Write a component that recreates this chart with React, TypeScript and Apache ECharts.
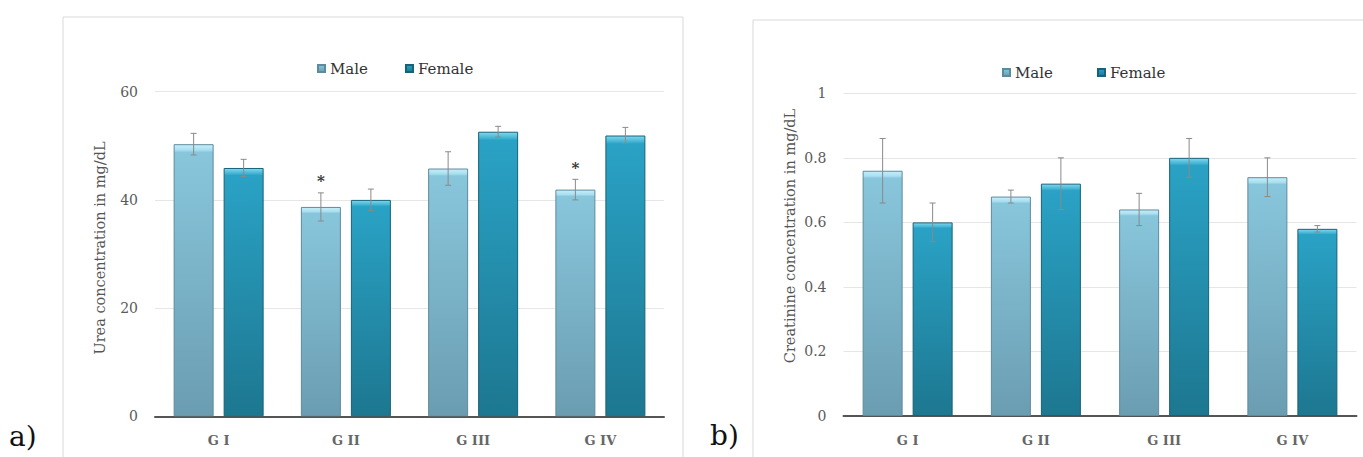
import React, { useEffect, useRef } from "react";
import * as echarts from "echarts";

const groups = ["G I", "G II", "G III", "G IV"];

const ureaMale = [50.3, 38.7, 45.8, 41.9];
const ureaMaleErr = [2.0, 2.6, 3.1, 1.9];
const ureaFemale = [45.9, 40.0, 52.6, 51.9];
const ureaFemaleErr = [1.6, 2.0, 1.0, 1.5];
const ureaMaleSig = [false, true, false, true];
const ureaFemaleSig = [false, false, false, false];

const creatMale = [0.76, 0.68, 0.64, 0.74];
const creatMaleErr = [0.1, 0.02, 0.05, 0.06];
const creatFemale = [0.6, 0.72, 0.8, 0.58];
const creatFemaleErr = [0.06, 0.08, 0.06, 0.01];
const noSig = [false, false, false, false];

const ureaTicks = { min: 0, max: 60, interval: 20 };
const creatTicks = { min: 0, max: 1, interval: 0.2 };

const FONT = "DejaVu Serif";
const BAR_W = 40;
const BAR_GAP = 10;

const maleColor = new echarts.graphic.LinearGradient(0, 0, 0, 1, [
  { offset: 0, color: "#c6eff9" },
  { offset: 0.02, color: "#a9def0" },
  { offset: 0.028, color: "#88c6dc" },
  { offset: 1, color: "#6b9db1" },
]);
const femaleColor = new echarts.graphic.LinearGradient(0, 0, 0, 1, [
  { offset: 0, color: "#7fd8ee" },
  { offset: 0.02, color: "#45b4d4" },
  { offset: 0.028, color: "#2aa2c5" },
  { offset: 1, color: "#1d7790" },
]);

function errData(vals: number[], errs: number[], sig: boolean[]) {
  return vals.map((v, i) => [i, v, errs[i], sig[i] ? 1 : 0]);
}

function errSeries(
  name: string,
  vals: number[],
  errs: number[],
  sig: boolean[],
  side: number,
  axisIndex: number
) {
  return {
    type: "custom",
    name: name + " error",
    xAxisIndex: axisIndex,
    yAxisIndex: axisIndex,
    z: 5,
    silent: true,
    data: errData(vals, errs, sig),
    renderItem: (params: any, api: any) => {
      const idx = api.value(0);
      const v = api.value(1);
      const e = api.value(2);
      const s = api.value(3);
      const off = (side * (BAR_W + BAR_GAP)) / 2;
      const top = api.coord([idx, v + e]);
      const bot = api.coord([idx, v - e]);
      const x = top[0] + off;
      const cap = 3;
      const st = { stroke: "#8a8a8a", lineWidth: 1 };
      const children: any[] = [
        { type: "line", shape: { x1: x, y1: top[1], x2: x, y2: bot[1] }, style: st },
        { type: "line", shape: { x1: x - cap, y1: top[1], x2: x + cap, y2: top[1] }, style: st },
        { type: "line", shape: { x1: x - cap, y1: bot[1], x2: x + cap, y2: bot[1] }, style: st },
      ];
      if (s) {
        children.push({
          type: "text",
          x: x,
          y: top[1] - 4,
          style: {
            text: "*",
            font: "bold 15px " + FONT,
            fill: "#333",
            textAlign: "center",
            textVerticalAlign: "bottom",
          },
        });
      }
      return { type: "group", children };
    },
  };
}

function barSeries(name: string, vals: number[], color: any, border: string, axisIndex: number) {
  return {
    type: "bar",
    name,
    xAxisIndex: axisIndex,
    yAxisIndex: axisIndex,
    barWidth: BAR_W,
    barGap: (BAR_GAP / BAR_W) * 100 + "%",
    data: vals,
    itemStyle: { color, borderColor: border, borderWidth: 1 },
  };
}

const axisLabelStyle = { fontFamily: FONT, fontSize: 14, color: "#5a5a5a" };

function xAxis(gridIndex: number) {
  return {
    type: "category",
    gridIndex,
    data: groups,
    axisTick: { show: false },
    axisLine: { lineStyle: { color: "#555", width: 2 } },
    axisLabel: { ...axisLabelStyle, fontSize: 13, fontWeight: "bold", margin: 18, color: "#666" },
  };
}

function yAxis(gridIndex: number, ticks: any) {
  return {
    type: "value",
    gridIndex,
    min: ticks.min,
    max: ticks.max,
    interval: ticks.interval,
    axisLine: { show: false },
    axisTick: { show: false },
    axisLabel: { ...axisLabelStyle, margin: 17 },
    splitLine: { lineStyle: { color: "#e6e6e6", width: 1 } },
  };
}

export default function App() {
  const ref = useRef<HTMLDivElement>(null);
  useEffect(() => {
    if (!ref.current) return;
    const chart = echarts.init(ref.current, undefined, { renderer: "svg" });
    const legendCommon = {
      icon: "rect",
      itemWidth: 7,
      itemHeight: 7,
      data: ["Male", "Female"],
      textStyle: { fontFamily: FONT, fontSize: 15, color: "#333" },
      selectedMode: false,
    };
    chart.setOption({
      animation: false,
      backgroundColor: "#ffffff",
      grid: [
        { left: 155, top: 91.7, width: 509, height: 324.6 },
        { left: 843.5, top: 93.3, width: 513, height: 322.7 },
      ],
      legend: [
        { ...legendCommon, left: 312, top: 56, itemGap: 37 },
        { ...legendCommon, left: 997, top: 60, itemGap: 44 },
      ],
      xAxis: [xAxis(0), xAxis(1)],
      yAxis: [yAxis(0, ureaTicks), yAxis(1, creatTicks)],
      graphic: [
        {
          type: "rect",
          shape: { x: 63, y: 17, width: 620, height: 460 },
          style: { fill: "none", stroke: "#d9d9d9", lineWidth: 1 },
          z: -10,
        },
        {
          type: "rect",
          shape: { x: 753, y: 20, width: 640, height: 460 },
          style: { fill: "none", stroke: "#d9d9d9", lineWidth: 1 },
          z: -10,
        },
        {
          type: "text",
          x: 100,
          y: 248,
          rotation: Math.PI / 2,
          style: {
            text: "Urea concentration in mg/dL",
            font: "14.5px " + FONT,
            fill: "#555",
            textAlign: "center",
            textVerticalAlign: "middle",
          },
        },
        {
          type: "text",
          x: 790,
          y: 236,
          rotation: Math.PI / 2,
          style: {
            text: "Creatinine concentration in mg/dL",
            font: "14.5px " + FONT,
            fill: "#555",
            textAlign: "center",
            textVerticalAlign: "middle",
          },
        },
        {
          type: "text",
          x: 9,
          y: 436,
          style: { text: "a)", font: "28px " + FONT, fill: "#111", textVerticalAlign: "middle" },
        },
        {
          type: "text",
          x: 710,
          y: 435,
          style: { text: "b)", font: "28px " + FONT, fill: "#111", textVerticalAlign: "middle" },
        },
      ],
      series: [
        barSeries("Male", ureaMale, maleColor, "#5d8b9d", 0),
        barSeries("Female", ureaFemale, femaleColor, "#176276", 0),
        errSeries("Male", ureaMale, ureaMaleErr, ureaMaleSig, -1, 0),
        errSeries("Female", ureaFemale, ureaFemaleErr, ureaFemaleSig, 1, 0),
        barSeries("Male", creatMale, maleColor, "#5d8b9d", 1),
        barSeries("Female", creatFemale, femaleColor, "#176276", 1),
        errSeries("Male", creatMale, creatMaleErr, noSig, -1, 1),
        errSeries("Female", creatFemale, creatFemaleErr, noSig, 1, 1),
      ],
    });
    return () => chart.dispose();
  }, []);
  return (
    <div
      ref={ref}
      style={{ position: "fixed", left: 0, top: 0, width: 1363, height: 457 }}
    />
  );
}
